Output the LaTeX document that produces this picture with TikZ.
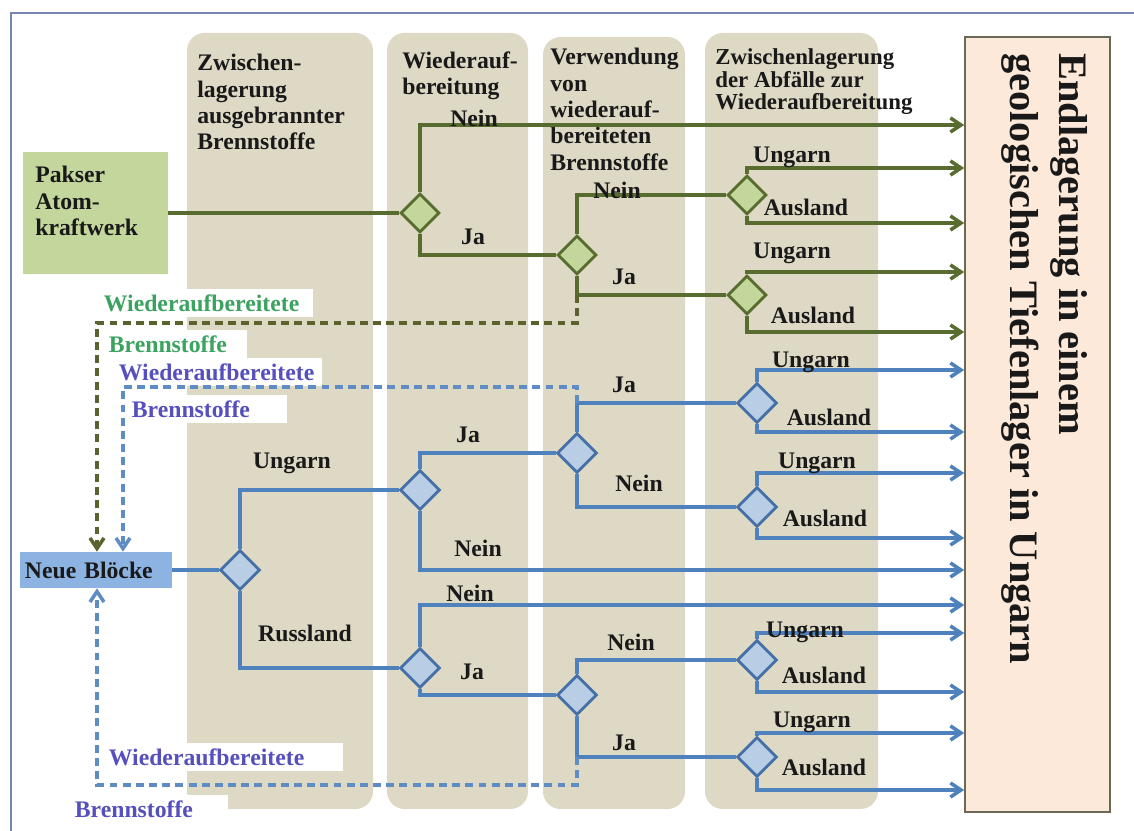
\documentclass[tikz,border=0pt]{standalone}
\usepackage{fontspec}
\setmainfont{Liberation Serif}
\usepackage{tikz}
\usetikzlibrary{arrows.meta,
  calc,
  positioning,
  shapes.geometric
}
\definecolor{colbg}{RGB}{221,217,196}
\definecolor{grnline}{RGB}{88,108,48}
\definecolor{grndash}{RGB}{92,98,46}
\definecolor{grnfill}{RGB}{195,214,155}
\definecolor{bluline}{RGB}{79,129,189}
\definecolor{bludash}{RGB}{95,140,195}
\definecolor{bluedge}{RGB}{70,112,168}
\definecolor{blufill}{RGB}{185,205,229}
\definecolor{neuefill}{RGB}{141,179,226}
\definecolor{endfill}{RGB}{253,233,217}
\definecolor{endedge}{RGB}{105,105,85}
\definecolor{framecol}{RGB}{120,135,175}
\definecolor{recgrn}{RGB}{59,163,95}
\definecolor{recblu}{RGB}{85,80,190}
\newcommand*{\lblfont}{\bfseries\fontsize{13.5}{15}\selectfont}
\newcommand*{\smallhdrfont}{\bfseries\fontsize{13}{13}\selectfont}

\tikzset{
  colbox/.style={fill=colbg, rounded corners=10pt},
  hdr/.style={anchor=north west, align=left, inner sep=0pt, font=\lblfont, text=black!90},
  lbl/.style={inner sep=0pt, font=\lblfont, text=black!90},
  recyc/.style={anchor=west, fill=white, inner xsep=2pt, inner ysep=3pt, font=\lblfont},
  gline/.style={draw=grnline, line width=2pt},
  bline/.style={draw=bluline, line width=2pt},
  gdash/.style={draw=grndash, line width=2pt, dash pattern=on 4.5pt off 3pt},
  bdash/.style={draw=bludash, line width=2pt, dash pattern=on 4.5pt off 3pt},
  gdia/.style={diamond, draw=grnline, fill=grnfill, line width=1.7pt,
    minimum width=0.78cm, minimum height=0.78cm, inner sep=0pt},
  bdia/.style={diamond, draw=bluedge, fill=blufill, line width=1.7pt,
    minimum width=0.8cm, minimum height=0.8cm, inner sep=0pt}
}

\begin{document}
\begin{tikzpicture}[x=0.02cm, y=-0.02cm, >={Straight Barb[length=6pt,width=8pt]}]
  \useasboundingbox (0,0) rectangle (1134,831);

  % frame
  \draw[framecol, line width=1.3pt] (11,831) -- (11,13) -- (1134,13);

  % columns
  \fill[colbox] (187,33) rectangle (373,809);
  \fill[colbox] (387,33) rectangle (528,809);
  \fill[colbox] (543,37) rectangle (685,809);
  \fill[colbox] (705,33) rectangle (878,809);

  \node[hdr] (hdr1) at (197,54) {Zwischen-\\lagerung\\ausgebrannter\\Brennstoffe};
  \node[hdr] (hdr2) at (402,51) {Wiederauf-\\bereitung};
  \node[hdr] (hdr3) at (550,48) {Verwendung\\von\\wiederauf-\\bereiteten\\Brennstoffe};
  \node[hdr, font=\smallhdrfont] (hdr4) at (715,48)
  {Zwischenlagerung\\der Abfälle zur\\Wiederaufbereitung};

  % boxes
  \node[fill=grnfill, minimum width=2.9cm, minimum height=2.44cm, inner sep=0pt]
  (pakser) at (95.5,213) {};
  \node[hdr] (paksertxt) at (35,166) {Pakser\\Atom-\\kraftwerk};

  \node[fill=neuefill, minimum width=3.04cm, minimum height=0.72cm, inner xsep=2.8pt,
  text width=3.04cm-5.6pt, align=left, font=\lblfont, text=black!90]
  (neue) at (96,570) {Neue Blöcke};

  \node[draw=endedge, fill=endfill, line width=1pt, minimum width=2.9cm,
  minimum height=15.5cm, inner sep=0pt] (endlager) at (1037.5,424.5) {};
  \node[rotate=-90, anchor=north west, inner sep=0pt, align=left, text=black!90,
  font=\bfseries\fontsize{23}{28}\selectfont] (endtext) at (1088,53)
  {Endlagerung in einem\\geologischen Tiefenlager in Ungarn};

  % recycled fuel labels
  \node[recyc, text=recgrn, text width=116.8pt] (rg1) at (100,303) {Wiederaufbereitete};
  \node[recyc, text=recgrn, text width=76.5pt] (rg2) at (105,344) {Brennstoffe};
  \node[recyc, text=recblu, text width=113.4pt] (rb1) at (115,372) {Wiederaufbereitete};
  \node[recyc, text=recblu, text width=86.2pt] (rb2) at (128,409) {Brennstoffe};
  \node[recyc, text=recblu, text width=131pt] (rb3) at (105,757) {Wiederaufbereitete};
  \node[recyc, text=recblu, text width=85pt] (rb4) at (71,809) {Brennstoffe};

  % decisions, Paks
  \node[gdia] (d1) at (420,213) {};
  \node[gdia] (d2) at (577,255) {};
  \node[gdia] (d3) at (747,195) {};
  \node[gdia] (d4) at (747,295) {};

  % decisions, new blocks
  \node[bdia] (b1) at (240,570) {};
  \node[bdia] (b2) at (420,490) {};
  \node[bdia] (b3) at (420,668) {};
  \node[bdia] (b4) at (577,453) {};
  \node[bdia] (b5) at (757,403) {};
  \node[bdia] (b6) at (757,507) {};
  \node[bdia] (b7) at (577,695) {};
  \node[bdia] (b8) at (757,660) {};
  \node[bdia] (b9) at (757,757) {};

  % green paths
  \draw[gline] (pakser) -- (d1);
  \draw[gline,->] (d1.north) |- (endlager.west |- 0,125);
  \draw[gline] (d1.south) |- (d2.west);
  \draw[gline] (d2.north) |- (d3.west);
  \draw[gline] (d2.south) |- (d4.west);
  \draw[gline,->] (d3.north) |- (endlager.west |- 0,168);
  \draw[gline,->] (d3.south) |- (endlager.west |- 0,223);
  \draw[gline,->] (d4.north) |- (endlager.west |- 0,272);
  \draw[gline,->] (d4.south) |- (endlager.west |- 0,332);
  \draw[gdash,->] (d2.south |- d4) -- ++(0,28) -| (neue.north -| 97,0);

  % blue paths
  \draw[bline] (neue) -- (b1);
  \draw[bline] (b1.north) |- (b2.west);
  \draw[bline] (b1.south) |- (b3.west);
  \draw[bline] (b2.north) |- (b4.west);
  \draw[bline,->] (b2.south) |- (endlager.west |- 0,570);
  \draw[bline] (b4.north) |- (b5.west);
  \draw[bline] (b4.south) |- (b6.west);
  \draw[bline,->] (b5.north) |- (endlager.west |- 0,370);
  \draw[bline,->] (b5.south) |- (endlager.west |- 0,432);
  \draw[bline,->] (b6.north) |- (endlager.west |- 0,473);
  \draw[bline,->] (b6.south) |- (endlager.west |- 0,538);
  \draw[bline,->] (b3.north) |- (endlager.west |- 0,605);
  \draw[bline] (b3.south) |- (b7.west);
  \draw[bline] (b7.north) |- (b8.west);
  \draw[bline] (b7.south) |- (b9.west);
  \draw[bline,->] (b8.north) |- (endlager.west |- 0,633);
  \draw[bline,->] (b8.south) |- (endlager.west |- 0,692);
  \draw[bline,->] (b9.north) |- (endlager.west |- 0,733);
  \draw[bline,->] (b9.south) |- (endlager.west |- 0,790);
  \draw[bdash,->] (b4.north |- b5) -- ++(0,-16) -| (neue.north -| 123,0);
  \draw[bdash,->] (b7.south |- b9) -- ++(0,28) -| (neue.south -| 97,0);

  % branch labels, Paks
  \node[lbl] (n1) at (474,118) {Nein};
  \node[lbl] (j1) at (473,237) {Ja};
  \node[lbl] (n2) at (617,190) {Nein};
  \node[lbl] (j2) at (624,277) {Ja};
  \node[lbl] (u1) at (792,157) {Ungarn};
  \node[lbl] (a1) at (806,207) {Ausland};
  \node[lbl] (u2) at (792,253) {Ungarn};
  \node[lbl] (a2) at (813,315) {Ausland};

  % branch labels, new blocks
  \node[lbl] (hu) at (292,463) {Ungarn};
  \node[lbl] (ru) at (305,633) {Russland};
  \node[lbl] (j3) at (468,435) {Ja};
  \node[lbl] (n3) at (478,548) {Nein};
  \node[lbl] (j4) at (624,385) {Ja};
  \node[lbl] (n4) at (639,483) {Nein};
  \node[lbl] (u3) at (811,362) {Ungarn};
  \node[lbl] (a3) at (829,417) {Ausland};
  \node[lbl] (u4) at (817,463) {Ungarn};
  \node[lbl] (a4) at (825,518) {Ausland};
  \node[lbl] (n5) at (470,593) {Nein};
  \node[lbl] (j5) at (472,672) {Ja};
  \node[lbl] (n6) at (631,642) {Nein};
  \node[lbl] (j6) at (624,743) {Ja};
  \node[lbl] (u5) at (805,632) {Ungarn};
  \node[lbl] (a5) at (824,675) {Ausland};
  \node[lbl] (u6) at (812,722) {Ungarn};
  \node[lbl] (a6) at (824,767) {Ausland};
\end{tikzpicture}
\end{document}
